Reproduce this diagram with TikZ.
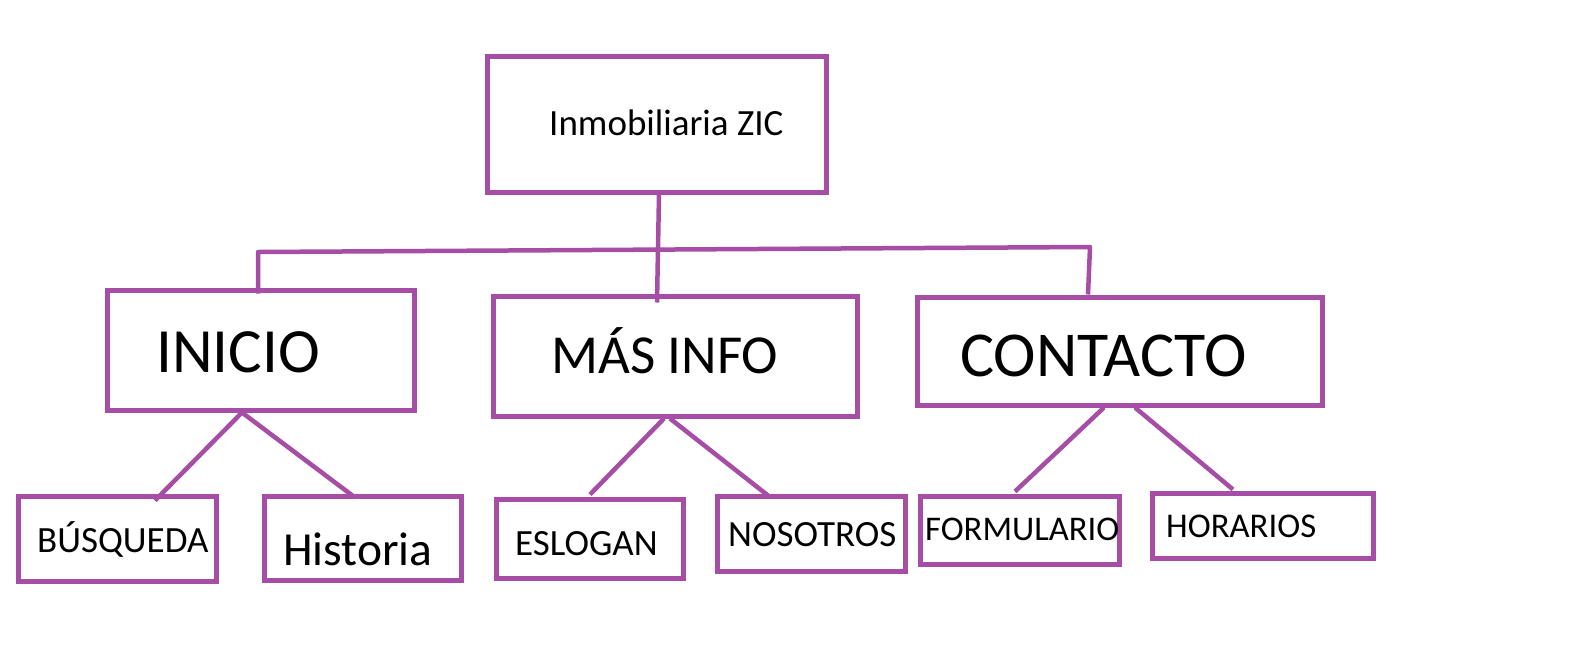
\documentclass[tikz,border=0pt]{standalone}
\usepackage{fontspec}
\setmainfont{Carlito}
\definecolor{zicpurple}{RGB}{166,77,166}
\begin{document}
\begin{tikzpicture}[x=1pt,y=-1pt,
  box/.style={draw=zicpurple,line width=5pt,rectangle,inner sep=0pt,fill=white},
  conn/.style={draw=zicpurple,line width=4.5pt},
  lbl/.style={anchor=base west,inner sep=0pt,text=black}]
\useasboundingbox[fill=white] (0,0) rectangle (1570,648);
% boxes
\node[box,minimum width=339pt,minimum height=136pt] (top) at (656.5,124) {};
\node[box,minimum width=307pt,minimum height=120pt] (inicio) at (260.5,350) {};
\node[box,minimum width=364pt,minimum height=120pt] (masinfo) at (675,356) {};
\node[box,minimum width=405pt,minimum height=108pt] (contacto) at (1119.5,351) {};
\node[box,minimum width=198pt,minimum height=85pt] (busq) at (117,538.5) {};
\node[box,minimum width=197pt,minimum height=84pt] (hist) at (362.5,538) {};
\node[box,minimum width=187pt,minimum height=79pt] (eslogan) at (589.5,538.5) {};
\node[box,minimum width=188pt,minimum height=75pt] (nosotros) at (811,533.5) {};
\node[box,minimum width=199pt,minimum height=68pt] (formulario) at (1019.5,530) {};
\node[box,minimum width=221pt,minimum height=65pt] (horarios) at (1262.5,525.5) {};
% connectors
\coordinate (hl) at (258,252);
\coordinate (hr) at (1090,247);
\draw[conn] ([xshift=2.5pt]top.south) -- ([xshift=-18pt,yshift=-9pt]masinfo.north);
\draw[conn,line join=round] ([xshift=-2.5pt,yshift=-6pt]inicio.north) -- (hl) -- (hr) -- ([xshift=-31.5pt]contacto.north);
\draw[conn] ([xshift=-18.5pt]inicio.south) -- ([xshift=38pt,yshift=-7pt]busq.north);
\draw[conn] ([xshift=-18.5pt]inicio.south) -- ([xshift=-7.5pt,yshift=-4pt]hist.north);
\draw[conn] ([xshift=-11pt]masinfo.south) -- ([xshift=0.5pt,yshift=2pt]eslogan.north);
\draw[conn] ([xshift=-5pt]masinfo.south) -- ([xshift=-43pt,yshift=-2pt]nosotros.north);
\draw[conn] ([xshift=-15.5pt]contacto.south) -- ([xshift=-4.5pt,yshift=2pt]formulario.north);
\draw[conn] ([xshift=15.5pt]contacto.south) -- ([xshift=-29.5pt,yshift=1pt]horarios.north);
% labels
\node[lbl,font=\fontsize{37}{40}\selectfont] (ttop) at (549,135) {Inmobiliaria ZIC};
\node[lbl,font=\fontsize{63}{66}\selectfont] (tinicio) at (156,372) {INICIO};
\node[lbl,font=\fontsize{55}{58}\selectfont] (tmas) at (551,373) {MÁS INFO};
\node[lbl,font=\fontsize{64}{67}\selectfont] (tcont) at (960,376) {CONTACTO};
\node[lbl,font=\fontsize{37}{40}\selectfont] (tbusq) at (37,552) {BÚSQUEDA};
\node[lbl,font=\fontsize{47.5}{50}\selectfont] (thist) at (283,565) {Historia};
\node[lbl,font=\fontsize{37}{40}\selectfont] (tesl) at (515,555) {ESLOGAN};
\node[lbl,font=\fontsize{37}{40}\selectfont] (tnos) at (728,546) {NOSOTROS};
\node[lbl,font=\fontsize{34.6}{37}\selectfont] (tform) at (925,540) {FORMULARIO};
\node[lbl,font=\fontsize{34.7}{37}\selectfont] (thor) at (1166,537) {HORARIOS};
\end{tikzpicture}
\end{document}
